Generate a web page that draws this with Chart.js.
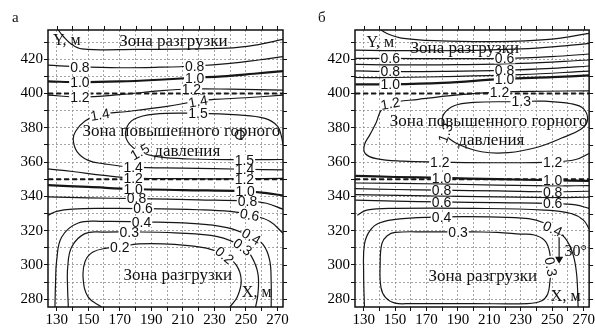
<!DOCTYPE html>
<html>
<head>
<meta charset="utf-8">
<script src="https://cdn.jsdelivr.net/npm/chart.js@4"></script>
<style>
  html, body { margin: 0; padding: 0; background: #fff; }
  #wrap { position: relative; width: 595px; height: 330px; }
  canvas { position: absolute; top: 0; }
  #ca { left: 0; }
  #cb { left: 307px; }
</style>
</head>
<body>
<div id="wrap">
  <canvas id="ca" width="300" height="330"></canvas>
  <canvas id="cb" width="288" height="330"></canvas>
</div>
<script>
// Stress contour maps (panels а and б), X/Y in metres

const xLabels = [130, 150, 170, 190, 210, 230, 250, 270];
const yLabels = [280, 300, 320, 340, 360, 380, 400, 420];
const xGrid = [130, 140, 150, 160, 170, 180, 190, 200, 210, 220, 230, 240, 250, 260, 270];
const yGrid = [280, 290, 300, 310, 320, 330, 340, 350, 360, 370, 380, 390, 400, 410, 420, 430];

// zone boundaries (dashed)
const bound400 = [[124.5, 400], [273.5, 400]];
const bound350 = [[124.5, 350], [273.5, 350]];

// ---- panel а contours ----
const aTop = [[131,437],[134,433.5],[139,429],[146,426],[180,425.7],[238,426.4],[258,428.5],[273.5,431.5]];
const a08 = [[124.5,416.5],[144.7,415.5],[170,415],[195,415.3],[217.5,416],[240,417.5],[258,419.5],[273.5,421.5]];
const a10 = [[124.5,407],[144.7,406.6],[170,407],[195,408],[217.5,409.2],[235,410],[255,411.5],[273.5,413]];
const a12 = [[124.5,399],[144.7,398],[170,399.3],[195,401.5],[215.4,402.6],[240,402.5],[273.5,402]];
const a14 = [[273.5,399],[250,397.5],[230,396.5],[219.6,395.5],[200,392.5],[175,389.5],[157.4,387.7],[148,384],[142,378],[140.5,373],[143,366],[150,361],[160,359],[178.5,357],[210,356.5],[249.2,355.8],[273.5,355.5]];
const a15 = [[273.5,361.5],[249,361.4],[215,361.8],[195,363],[182.7,366],[175,372],[174,379],[179,385],[192,388],[219.6,388.4],[245,387.5],[262,385.5],[270,381],[272.5,375],[273.5,370]];
const a16 = [[243,376],[244.5,378.3],[247.5,378.3],[249,376],[247.5,373.7],[244.5,373.7],[243,376]];
const a12b = [[124.5,356],[140,354.5],[160,352.2],[178.5,350.7],[210,350.3],[249,350.3],[273.5,350.5]];
const a10b = [[124.5,346.5],[150,345.5],[178.5,344.3],[210,343.7],[249.5,343],[262,342],[273.5,340.5]];
const a08b = [[124.5,339.7],[150,339.1],[180.6,338.7],[220,338],[251,337.3],[263,336],[273.5,332.5]];
const a06b = [[124.5,329],[130,331.3],[140,332.6],[160,333],[184.8,332.9],[220,332.2],[240,331.2],[252.3,329.3],[265,325.5],[273.5,318.5]];
const a04 = [[128.9,275.5],[129.3,290],[130,302.7],[133.2,316.3],[143.7,324.5],[160,325.4],[183.8,325.1],[215,324.3],[238,321.8],[253.4,316.6],[260.8,312],[265,303],[266,290],[266,275.5]];
const a03 = [[137.4,275.5],[136.9,287],[137,298.8],[139.5,310.5],[147.9,318.3],[160,319.2],[176,319.3],[205,318.7],[232,316.5],[248,310.5],[253.5,305],[257.6,295],[257.6,283],[256.1,275.5]];
const a02 = [[158.5,275.5],[150,281.3],[146.8,292],[148,302],[153,307.5],[161.6,309.8],[170,310.5],[182,312.3],[205,312],[225,309.8],[236.5,305.7],[244,299.8],[247,291],[244.5,281.3],[239.7,275.5]];

// contour labels: text, x, y, rotation (deg)
const labelsA = [
  ['0.8',144.7,415.5,0], ['0.8',217.5,416,0],
  ['1.0',144.7,406.6,0], ['1.0',217.5,409.2,0],
  ['1.2',144.7,398,0], ['1.2',215.4,402.6,0],
  ['1.4',157.4,387.7,-10], ['1.4',219.6,395.5,-10],
  ['1.5',219.6,388.4,0], ['1.5',182.7,366,-30],
  ['1.4',178.5,357,0], ['1.5',249,361.4,0], ['1.4',249.2,355.8,0],
  ['1.2',178.5,350.7,0], ['1.2',249,350.3,0],
  ['1.0',178.5,344.3,0], ['1.0',249.5,343,0],
  ['0.8',180.6,338.7,0], ['0.8',251,337.3,0],
  ['0.6',184.8,332.9,0], ['0.6',252.3,329.3,10],
  ['0.4',183.8,325.1,0], ['0.4',253.4,316.6,30],
  ['0.3',176,319.3,0], ['0.3',248,310.5,35],
  ['0.2',170,310.5,0], ['0.2',236.5,305.7,40]
];
const textsA = [
  ['Зона разгрузки',204,430.2], ['Зона повышенного горного',209,377.6],
  ['давления',212.8,366], ['Зона разгрузки',206.8,294]
];
const axisNamesA = [['Y, м',136.5,430.5], ['X, м',256.8,283.5]];

// ---- panel б contours ----
const bTop = [[141,437],[146,434.5],[154,432.3],[175,430.8],[215,430.2],[248,431.5],[273.5,435]];
const b05 = [[124.7,425.3],[150,425],[190,425],[230,426],[258,427.8],[273.5,429.2]];
const b06 = [[124.7,420.5],[146.9,420.4],[180,420.3],[219.7,420.4],[250,421.5],[273.5,423]];
const b07 = [[124.7,417],[150,416.7],[190,416.8],[230,417.5],[273.5,419.5]];
const b08 = [[124.7,413.2],[146.9,412.8],[180,412.9],[219.7,413.5],[250,414.6],[273.5,416]];
const b09 = [[124.7,409.3],[150,409.3],[190,410],[230,411],[273.5,413]];
const b10 = [[124.7,405.3],[146.9,405.3],[180,406.2],[219.7,408.5],[250,409.5],[273.5,410.5]];
const b12 = [[273.5,401.5],[245,401.3],[216.5,400.8],[190,399.2],[165,396.6],[146.9,394.2],[141,390],[138,383],[134,376],[130.5,370],[131,365],[138,362],[155,360.5],[178.5,360],[215,359.6],[250.3,360],[265,361.5],[273.5,365]];
const b13 = [[225,395.2],[200,394.8],[188,393],[181,388],[180,382],[182,376],[190,370.5],[205,366],[222,365.5],[240,368.5],[256,374],[268,379],[272.4,384],[270,391],[262,394],[245,395.5],[230.3,395.3],[225,395.2]];
const b10b = [[124.7,352],[150,351.3],[179.6,350.8],[215,350],[250.3,349.4],[273.5,349]];
const b09b = [[124.7,347.8],[180,347.2],[250,346.1],[273.5,346.3]];
const b08b = [[124.7,344.5],[150,344],[179.6,343.6],[215,343.2],[250.3,342.7],[273.5,343]];
const b07b = [[124.7,341],[180,340.2],[250,339.3],[273.5,339.5]];
const b06b = [[124.7,337.8],[150,337.2],[179.6,336.8],[215,336.3],[250.3,335.8],[265,335],[273.5,333]];
const b05b = [[126,329],[132,332],[150,333],[200,333],[245,332],[262,330],[270,326],[273.5,321]];
const b04 = [[130.5,275.5],[130,295],[130.5,312],[134,320],[140,324.5],[155,327],[179.6,328],[210,328],[235,327],[245,324.5],[250.3,321.2],[258,316],[263,307],[265.5,295],[266.5,275.5]];
const b03 = [[200,319.3],[215,319],[230,318],[238.6,317.5],[245,314.5],[248,309],[249.2,299],[248.5,290],[247.1,283],[243,279],[234.4,277.5],[200,277.5],[160,277.5],[150,277.8],[144,281],[141,287],[140.5,300],[141.6,312.5],[145,317],[150,319],[170,319.3],[190.1,319.3],[200,319.3]];
const dipLine = [[254.4,317.3],[254.4,303.5]];
const dipBar = [[251.5,317.3],[257.3,317.3]];

const labelsB = [
  ['0.6',146.9,420.4,0], ['0.6',219.7,420.4,0],
  ['0.8',146.9,412.8,0], ['0.8',219.7,413.5,0],
  ['1.0',146.9,405.3,0], ['1.0',219.7,408.5,0],
  ['1.2',216.5,400.8,0], ['1.2',146.9,394.2,-10],
  ['1.3',230.3,395.3,0], ['1.3',182,377,-70],
  ['1.2',178.5,360,0], ['1.2',250.3,360,0],
  ['1.0',179.6,350.8,0], ['1.0',250.3,349.4,0],
  ['0.8',179.6,343.6,0], ['0.8',250.3,342.7,0],
  ['0.6',179.6,336.8,0], ['0.6',250.3,335.8,0],
  ['0.4',179.6,328,0], ['0.4',250.3,321.2,25],
  ['0.3',190.1,319.3,0], ['0.3',249.2,299,80]
];
const textsB = [
  ['Зона разгрузки',194.4,426],['Зона повышенного горного',209.6,383.4],
  ['давления',211.3,372.8], ['Зона разгрузки',205.8,293]
];
const axisNamesB = [['Y, м',140.6,429.8], ['X, м',258.6,281.3], ['30°',265,307.4]];

const SERIF = "'Liberation Serif', 'Times New Roman', serif";
const SANS = "'Liberation Sans', Arial, sans-serif";

function toXY(pts) { return pts.map(p => ({ x: p[0], y: p[1] })); }

function line(pts, width, dash) {
  return {
    data: toXY(pts), showLine: true, borderColor: '#161616', borderWidth: width || 1.2,
    borderDash: dash || [], pointRadius: 0, tension: 0.4, fill: false
  };
}

const framePlugin = {
  id: 'frame',
  afterDatasetsDraw(chart, args, opts) {
    const { ctx, chartArea: a, scales: { x, y } } = chart;
    ctx.save();
    // contour labels: white gap first, then digits
    ctx.font = '14px ' + SANS;
    ctx.textAlign = 'center';
    ctx.textBaseline = 'middle';
    opts.labels.forEach(([t, vx, vy, rot]) => {
      const w = ctx.measureText(t).width + 2;
      ctx.save();
      ctx.translate(x.getPixelForValue(vx), y.getPixelForValue(vy));
      ctx.rotate(rot * Math.PI / 180);
      ctx.fillStyle = '#fff';
      ctx.fillRect(-w / 2, -5, w, 10);
      ctx.restore();
    });
    ctx.fillStyle = '#111';
    opts.labels.forEach(([t, vx, vy, rot]) => {
      ctx.save();
      ctx.translate(x.getPixelForValue(vx), y.getPixelForValue(vy));
      ctx.rotate(rot * Math.PI / 180);
      ctx.fillText(t, 0, 1);
      ctx.restore();
    });
    // zone captions
    ctx.font = '17px ' + SERIF;
    opts.texts.forEach(([t, vx, vy]) => {
      ctx.fillText(t, x.getPixelForValue(vx), y.getPixelForValue(vy));
    });
    ctx.font = '16px ' + SERIF;
    opts.names.forEach(([t, vx, vy]) => {
      ctx.fillText(t, x.getPixelForValue(vx), y.getPixelForValue(vy));
    });
    // frame
    ctx.strokeStyle = '#111';
    ctx.lineWidth = 1.5;
    ctx.strokeRect(a.left, a.top, a.right - a.left, a.bottom - a.top);
    // outer ticks on top and right
    ctx.lineWidth = 1;
    ctx.beginPath();
    xGrid.forEach(v => {
      const px = Math.round(x.getPixelForValue(v)) + 0.5;
      ctx.moveTo(px, a.top); ctx.lineTo(px, a.top - 4);
    });
    yGrid.forEach(v => {
      const py = Math.round(y.getPixelForValue(v)) + 0.5;
      ctx.moveTo(a.right, py); ctx.lineTo(a.right + 4, py);
    });
    ctx.stroke();
    // panel letter
    ctx.font = '15px ' + SERIF;
    ctx.textAlign = 'left';
    ctx.fillText(opts.letter, opts.letterX, 18);
    ctx.restore();
  }
};

function makeChart(id, datasets, labels, texts, names, letter, letterX, padRight) {
  return new Chart(document.getElementById(id), {
    type: 'scatter',
    data: { datasets },
    plugins: [framePlugin],
    options: {
      responsive: false,
      animation: false,
      events: [],
      layout: { padding: { left: 0, right: padRight, top: 30, bottom: 0 } },
      plugins: {
        legend: { display: false },
        tooltip: { enabled: false },
        frame: { labels, texts, names, letter, letterX }
      },
      scales: {
        x: {
          type: 'linear', min: 124.5, max: 273.5,
          afterBuildTicks: s => { s.ticks = xGrid.map(v => ({ value: v })); },
          afterFit: s => { s.height = 23; },
          ticks: {
            autoSkip: false, maxRotation: 0, padding: 0, color: '#000',
            font: { family: SERIF, size: 15 },
            callback: v => xLabels.includes(v) ? String(v) : ''
          },
          grid: { color: '#8f8f8f', lineWidth: 0.8, tickLength: 4, tickColor: '#111', tickWidth: 1 },
          border: { display: false, dash: [2, 2] }
        },
        y: {
          type: 'linear', min: 275.5, max: 437,
          afterBuildTicks: s => { s.ticks = yGrid.map(v => ({ value: v })); },
          afterFit: s => { s.width = 48; },
          ticks: {
            autoSkip: false, padding: 1, color: '#000',
            font: { family: SERIF, size: 15 },
            callback: v => yLabels.includes(v) ? String(v) : ''
          },
          grid: { color: '#8f8f8f', lineWidth: 0.8, tickLength: 4, tickColor: '#111', tickWidth: 1 },
          border: { display: false, dash: [2, 2] }
        }
      }
    }
  });
}

const dsA = [
  line(aTop), line(a08), line(a10, 2.2), line(a12), line(a14), line(a15), line(a16),
  line(a12b), line(a10b, 2.2), line(a08b), line(a06b), line(a04), line(a03), line(a02),
  line(bound400, 2, [5, 3]), line(bound350, 2, [5, 3])
];

const dip = line(dipLine, 1.2);
dip.pointRadius = [0, 3.5];
dip.pointStyle = 'triangle';
dip.rotation = 180;
dip.pointBackgroundColor = '#111';
dip.pointBorderColor = '#111';
dip.tension = 0;

const dsB = [
  line(bTop), line(b05), line(b06), line(b07), line(b08), line(b09), line(b10, 2.2),
  line(b12), line(b13), line(b10b, 2.2), line(b09b), line(b08b), line(b07b), line(b06b),
  line(b05b), line(b04), line(b03), dip, line(dipBar, 1.2),
  line(bound400, 2, [5, 3]), line(bound350, 2, [5, 3])
];

makeChart('ca', dsA, labelsA, textsA, axisNamesA, 'а', 12, 17);
makeChart('cb', dsB, labelsB, textsB, axisNamesB, 'б', 11, 5);
</script>
</body>
</html>
